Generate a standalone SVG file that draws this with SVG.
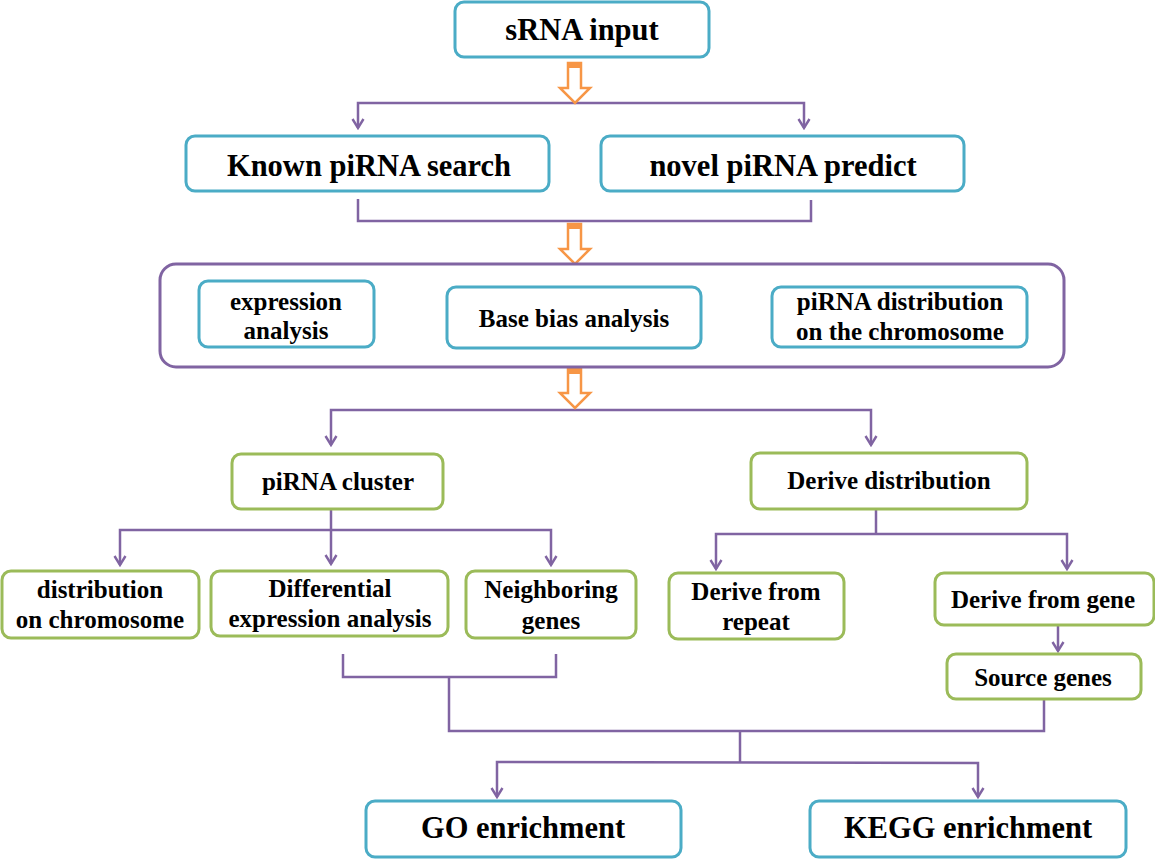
<svg xmlns="http://www.w3.org/2000/svg" width="1155" height="866" viewBox="0 0 1155 866">
<defs>
<style>
.b{fill:#fff;stroke:#4bacc6;stroke-width:3}
.g{fill:#fff;stroke:#9bbb59;stroke-width:3}
.p{fill:#fff;stroke:#8064a2;stroke-width:3}
.t{font-family:"Liberation Serif","Times New Roman",serif;font-weight:bold;fill:#000;text-anchor:middle}
.L{font-size:30.5px}
.S{font-size:25px}
.c{fill:none;stroke:#8064a2;stroke-width:2.5}
.o{fill:#fff;stroke:#f79646;stroke-width:2.5;stroke-linejoin:miter}
.of{fill:#f79646}
</style>
<marker id="ah" viewBox="0 0 14 14" refX="12" refY="7" markerWidth="14" markerHeight="14" markerUnits="userSpaceOnUse" orient="auto-start-reverse">
<path d="M3,1.5 L12,7 L3,12.5" fill="none" stroke="#8064a2" stroke-width="2.4"/>
</marker>
</defs>
<rect width="1155" height="866" fill="#fff"/>

<g id="connectors">
<path class="c" d="M358,128 V103 H804 V128" marker-start="url(#ah)" marker-end="url(#ah)"/>
<path class="c" d="M358,199 V221 H811 V200"/>
<path class="c" d="M331,445 V410 H871 V445" marker-start="url(#ah)" marker-end="url(#ah)"/>
<path class="c" d="M331,509 V530"/>
<path class="c" d="M120,565 V530 H551 V565" marker-start="url(#ah)" marker-end="url(#ah)"/>
<path class="c" d="M331,530 V564" marker-end="url(#ah)"/>
<path class="c" d="M876,509 V534"/>
<path class="c" d="M716,569 V534 H1067 V569" marker-start="url(#ah)" marker-end="url(#ah)"/>
<path class="c" d="M1058,626 V651" marker-end="url(#ah)"/>
<path class="c" d="M343,654 V677 H556 V654"/>
<path class="c" d="M449,677 V731 H1044 V699"/>
<path class="c" d="M740,731 V763"/>
<path class="c" d="M497,797 V762 L978,763 V797" marker-start="url(#ah)" marker-end="url(#ah)"/>
<g id="orange-arrows">
<polygon class="o" points="568,63 581,63 581,88 590,88 575,103 560,88 568,88"/>
<rect class="of" x="568" y="62" width="13" height="6"/>
<polygon class="o" points="568,224 581,224 581,249 590,249 575,264 560,249 568,249"/>
<rect class="of" x="568" y="223" width="13" height="6"/>
<polygon class="o" points="568,369 581,369 581,393 590,393 575,408 560,393 568,393"/>
<rect class="of" x="568" y="368" width="13" height="6"/>
</g>
</g>

<g id="n-srna"><rect class="b" x="455" y="2" width="254" height="55" rx="9"/><text class="t L" x="582" y="40">sRNA input</text></g>
<g id="n-known"><rect class="b" x="186" y="136" width="363" height="55" rx="9"/><text class="t L" x="369" y="176">Known piRNA search</text></g>
<g id="n-novel"><rect class="b" x="601" y="136" width="363" height="55" rx="9"/><text class="t L" x="783" y="176">novel piRNA predict</text></g>
<g id="n-analysis"><rect class="p" x="160" y="264" width="904" height="103" rx="16"/></g>
<g id="n-expr"><rect class="b" x="199" y="281" width="175" height="66" rx="9"/><text class="t S" x="286" y="310">expression</text><text class="t S" x="286" y="339">analysis</text></g>
<g id="n-base"><rect class="b" x="447" y="287" width="254" height="61" rx="9"/><text class="t S" x="574" y="327">Base bias analysis</text></g>
<g id="n-chrom"><rect class="b" x="772" y="287" width="255" height="60" rx="9"/><text class="t S" x="900" y="310">piRNA distribution</text><text class="t S" x="900" y="340">on the chromosome</text></g>
<g id="n-cluster"><rect class="g" x="232" y="454" width="211" height="55" rx="9"/><text class="t S" x="338" y="490">piRNA cluster</text></g>
<g id="n-derive"><rect class="g" x="751" y="453" width="276" height="56" rx="9"/><text class="t S" x="889" y="489">Derive distribution</text></g>
<g id="n-distchr"><rect class="g" x="2" y="571" width="197" height="67" rx="9"/><text class="t S" x="100" y="598">distribution</text><text class="t S" x="100" y="628">on chromosome</text></g>
<g id="n-diff"><rect class="g" x="211" y="571" width="237" height="65" rx="9"/><text class="t S" x="330" y="597">Differential</text><text class="t S" x="330" y="627">expression analysis</text></g>
<g id="n-neigh"><rect class="g" x="466" y="571" width="170" height="67" rx="9"/><text class="t S" x="551" y="598">Neighboring</text><text class="t S" x="551" y="629">genes</text></g>
<g id="n-repeat"><rect class="g" x="669" y="573" width="175" height="66" rx="9"/><text class="t S" x="756" y="600">Derive from</text><text class="t S" x="756" y="630">repeat</text></g>
<g id="n-gene"><rect class="g" x="935" y="573" width="219" height="52" rx="9"/><text class="t S" x="1043" y="608">Derive from gene</text></g>
<g id="n-source"><rect class="g" x="947" y="654" width="194" height="45" rx="9"/><text class="t S" x="1043" y="686">Source genes</text></g>
<g id="n-go"><rect class="b" x="366" y="801" width="315" height="56" rx="9"/><text class="t L" x="523" y="838">GO enrichment</text></g>
<g id="n-kegg"><rect class="b" x="810" y="801" width="316" height="56" rx="9"/><text class="t L" x="968" y="838">KEGG enrichment</text></g>
</svg>
